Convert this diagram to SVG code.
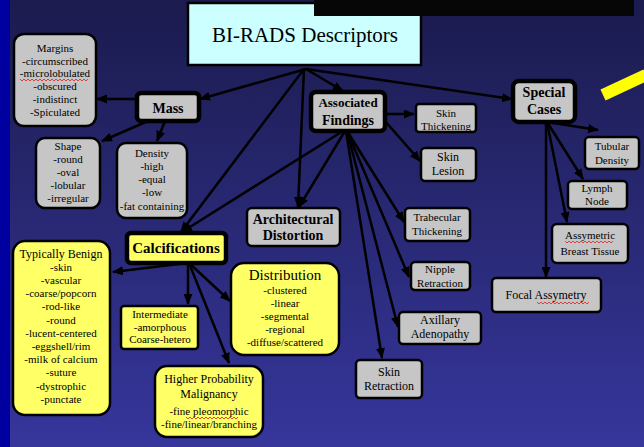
<svg xmlns="http://www.w3.org/2000/svg" width="644" height="447" viewBox="0 0 644 447" font-family="Liberation Serif, Times New Roman, serif">
<defs>
<linearGradient id="bg" x1="0" y1="0" x2="0" y2="1">
<stop offset="0" stop-color="#1b1b4e"/>
<stop offset="1" stop-color="#36369c"/>
</linearGradient>
<marker id="ah" markerUnits="userSpaceOnUse" markerWidth="11" markerHeight="9" refX="10" refY="4.5" orient="auto">
<path d="M0,0 L11,4.5 L0,9 z" fill="#000"/>
</marker>
</defs>
<style>
text{fill:#000;text-anchor:middle}
.g{fill:#c6c6c6;stroke:#000;stroke-width:2.5}
.y{fill:#ffff66;stroke:#000;stroke-width:2.5}
.thick{stroke-width:4.5}
.s{font-size:11px}
.m{font-size:12px}
.b{font-weight:bold;font-size:14px}
#connectors line{stroke:#000;stroke-width:2.5;marker-end:url(#ah)}
.sq{fill:none;stroke:#e03030;stroke-width:0.9}
</style>
<rect x="0" y="0" width="644" height="447" fill="url(#bg)"/>
<rect x="0" y="0" width="10" height="447" fill="#0000a0"/>
<line x1="603" y1="95" x2="646" y2="75" stroke="#ffff00" stroke-width="12"/>

<g id="connectors">
<line x1="306" y1="69" x2="200" y2="99"/>
<line x1="306" y1="69" x2="343" y2="91"/>
<line x1="306" y1="69" x2="512" y2="99"/>
<line x1="304" y1="69" x2="181" y2="232"/>
<line x1="304" y1="69" x2="298" y2="207"/>
<line x1="137" y1="99" x2="97" y2="99"/>
<line x1="148" y1="121" x2="102" y2="141"/>
<line x1="165" y1="121" x2="157" y2="141"/>
<line x1="385" y1="114" x2="414" y2="114"/>
<line x1="385" y1="121" x2="420" y2="161"/>
<line x1="343" y1="131" x2="182" y2="232"/>
<line x1="345" y1="131" x2="299" y2="207"/>
<line x1="347" y1="131" x2="404" y2="222"/>
<line x1="347" y1="131" x2="409" y2="277"/>
<line x1="347" y1="131" x2="398" y2="327"/>
<line x1="346" y1="131" x2="382" y2="358"/>
<line x1="547" y1="122" x2="598" y2="130"/>
<line x1="547" y1="122" x2="583" y2="179"/>
<line x1="547" y1="122" x2="567" y2="222"/>
<line x1="546" y1="122" x2="546" y2="277"/>
<line x1="187" y1="263" x2="113" y2="272"/>
<line x1="188" y1="263" x2="188" y2="304"/>
<line x1="189" y1="263" x2="230" y2="301"/>
<line x1="189" y1="263" x2="229" y2="363"/>
</g>

<g id="title">
<rect x="188" y="3" width="233" height="62" fill="#ccffff" stroke="#000" stroke-width="2.5"/>
<text x="305" y="42" font-size="21" fill="#111">BI-RADS Descriptors</text>
</g>
<rect x="314" y="0" width="320" height="16" fill="#060606"/>

<g id="mass">
<rect class="g thick" x="137" y="93" width="62" height="28" rx="4"/>
<text class="b" x="168" y="113">Mass</text>
</g>
<g id="margins">
<rect class="g" x="14" y="34" width="82" height="92" rx="10"/>
<text class="s" x="55" y="52">Margins</text>
<text class="s" x="55" y="65">-circumscribed</text>
<text class="s" x="55" y="77">-microlobulated</text>
<path class="sq" d="M20,79 l2,2 l2,-2 l2,2 l2,-2 l2,2 l2,-2 l2,2 l2,-2 l2,2 l2,-2 l2,2 l2,-2 l2,2 l2,-2 l2,2 l2,-2 l2,2 l2,-2 l2,2 l2,-2 l2,2 l2,-2 l2,2 l2,-2 l2,2 l2,-2 l2,2 l2,-2 l2,2 l2,-2 l2,2 l2,-2 l2,2 l2,-2"/>
<text class="s" x="55" y="90">-obscured</text>
<text class="s" x="55" y="103">-indistinct</text>
<text class="s" x="55" y="116">-Spiculated</text>
</g>
<g id="shape">
<rect class="g" x="36" y="138" width="64" height="70" rx="9"/>
<text class="s" x="68" y="150">Shape</text>
<text class="s" x="68" y="163">-round</text>
<text class="s" x="68" y="176">-oval</text>
<text class="s" x="68" y="189">-lobular</text>
<text class="s" x="68" y="202">-irregular</text>
</g>
<g id="density">
<rect class="g" x="117" y="143" width="70" height="75" rx="9"/>
<text class="s" x="152" y="157">Density</text>
<text class="s" x="152" y="170">-high</text>
<text class="s" x="152" y="183">-equal</text>
<text class="s" x="152" y="196">-low</text>
<text class="s" x="152" y="210">-fat containing</text>
</g>

<g id="associated">
<rect class="g thick" x="311" y="92" width="74" height="39" rx="5"/>
<text x="348" y="107" font-size="13" font-weight="bold">Associated</text>
<text class="b" x="348" y="125">Findings</text>
</g>
<g id="skin-thickening">
<rect class="g" x="416" y="104" width="60" height="28" rx="3"/>
<text class="s" x="446" y="117">Skin</text>
<text class="s" x="446" y="130">Thickening</text>
</g>
<g id="skin-lesion">
<rect class="g" x="421" y="148" width="55" height="33" rx="4"/>
<text class="m" x="448" y="161">Skin</text>
<text class="m" x="448" y="175">Lesion</text>
</g>
<g id="trabecular">
<rect class="g" x="405" y="208" width="65" height="33" rx="4"/>
<text class="s" x="437" y="221">Trabecular</text>
<text class="s" x="437" y="235">Thickening</text>
</g>
<g id="nipple">
<rect class="g" x="411" y="262" width="59" height="28" rx="4"/>
<text class="s" x="440" y="273">Nipple</text>
<text class="s" x="440" y="287">Retraction</text>
</g>
<g id="axillary">
<rect class="g" x="399" y="312" width="82" height="32" rx="4"/>
<text class="m" x="440" y="324">Axillary</text>
<text class="m" x="440" y="338">Adenopathy</text>
</g>
<g id="skin-retraction">
<rect class="g" x="356" y="360" width="66" height="38" rx="4"/>
<text class="m" x="389" y="376">Skin</text>
<text class="m" x="389" y="390">Retraction</text>
</g>
<g id="architectural">
<rect class="g" x="247" y="208" width="93" height="38" rx="5" stroke-width="3"/>
<text class="b" x="293" y="224">Architectural</text>
<text class="b" x="293" y="240">Distortion</text>
</g>

<g id="special">
<rect class="g thick" x="513" y="81" width="62" height="41" rx="6"/>
<text class="b" x="544" y="97">Special</text>
<text class="b" x="544" y="114">Cases</text>
</g>
<g id="tubular">
<rect class="g" x="585" y="137" width="54" height="32" rx="4"/>
<text class="s" x="612" y="150">Tubular</text>
<text class="s" x="612" y="164">Density</text>
</g>
<g id="lymph">
<rect class="g" x="568" y="181" width="59" height="28" rx="4"/>
<text class="s" x="597" y="192">Lymph</text>
<text class="s" x="597" y="205">Node</text>
</g>
<g id="assymetric">
<rect class="g" x="552" y="224" width="76" height="39" rx="5"/>
<text class="s" x="590" y="239">Assymetric</text>
<path class="sq" d="M565,241 l2,2 l2,-2 l2,2 l2,-2 l2,2 l2,-2 l2,2 l2,-2 l2,2 l2,-2 l2,2 l2,-2 l2,2 l2,-2 l2,2 l2,-2 l2,2 l2,-2 l2,2 l2,-2 l2,2 l2,-2 l2,2 l2,-2"/>
<text class="s" x="590" y="255">Breast Tissue</text>
</g>
<g id="focal">
<rect class="g" x="492" y="278" width="109" height="34" rx="4"/>
<text class="m" x="546" y="299">Focal Assymetry</text>
<path class="sq" d="M537,302 l2,2 l2,-2 l2,2 l2,-2 l2,2 l2,-2 l2,2 l2,-2 l2,2 l2,-2 l2,2 l2,-2 l2,2 l2,-2 l2,2 l2,-2 l2,2 l2,-2 l2,2 l2,-2 l2,2 l2,-2 l2,2 l2,-2 l2,2 l2,-2"/>
</g>

<g id="calcifications">
<rect class="y thick" x="127" y="233" width="99" height="30" rx="4"/>
<text x="176" y="253" font-size="15" font-weight="bold">Calcifications</text>
</g>
<g id="typically-benign">
<rect class="y" x="13" y="241" width="97" height="174" rx="12"/>
<text class="m" x="61" y="258">Typically Benign</text>
<text class="s" x="61" y="271">-skin</text>
<text class="s" x="61" y="284">-vascular</text>
<text class="s" x="61" y="297">-coarse/popcorn</text>
<text class="s" x="61" y="310">-rod-like</text>
<text class="s" x="61" y="324">-round</text>
<text class="s" x="61" y="337">-lucent-centered</text>
<text class="s" x="61" y="350">-eggshell/rim</text>
<text class="s" x="61" y="363">-milk of calcium</text>
<text class="s" x="61" y="376">-suture</text>
<text class="s" x="61" y="390">-dystrophic</text>
<text class="s" x="61" y="403">-punctate</text>
</g>
<g id="intermediate">
<rect class="y" x="121" y="306" width="77" height="43" rx="3"/>
<text class="s" x="160" y="318">Intermediate</text>
<text class="s" x="160" y="331">-amorphous</text>
<text class="s" x="160" y="343">Coarse-hetero</text>
</g>
<g id="distribution">
<rect class="y" x="231" y="263" width="108" height="92" rx="13"/>
<text x="285" y="280" font-size="15">Distribution</text>
<text class="s" x="285" y="294">-clustered</text>
<text class="s" x="285" y="307">-linear</text>
<text class="s" x="285" y="320">-segmental</text>
<text class="s" x="285" y="333">-regional</text>
<text class="s" x="285" y="346">-diffuse/scattered</text>
</g>
<g id="higher-probability">
<rect class="y" x="155" y="366" width="108" height="71" rx="12"/>
<text class="m" x="209" y="383">Higher Probability</text>
<text class="m" x="209" y="398">Malignancy</text>
<text class="s" x="209" y="415">-fine pleomorphic</text>
<path class="sq" d="M186,417 l2,2 l2,-2 l2,2 l2,-2 l2,2 l2,-2 l2,2 l2,-2 l2,2 l2,-2 l2,2 l2,-2 l2,2 l2,-2 l2,2 l2,-2 l2,2 l2,-2 l2,2 l2,-2 l2,2 l2,-2 l2,2 l2,-2 l2,2 l2,-2"/>
<text class="s" x="209" y="428">-fine/linear/branching</text>
</g>
</svg>
